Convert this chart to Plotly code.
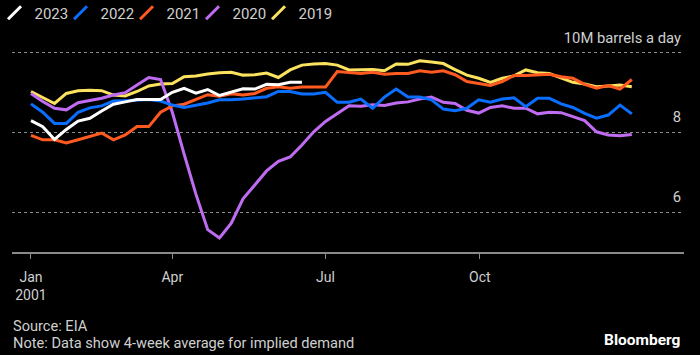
import plotly.graph_objects as go

weeks = list(range(52))

y2023 = [8.29, 8.14, 7.82, 8.07, 8.28, 8.35, 8.53, 8.70, 8.76, 8.82, 8.82, 8.82,
         9.00, 9.10, 8.98, 9.07, 8.92, 9.00, 9.09, 9.08, 9.20, 9.19, 9.25, 9.25]

y2022 = [8.71, 8.50, 8.22, 8.22, 8.50, 8.61, 8.66, 8.78, 8.79, 8.81, 8.82, 8.78,
         8.68, 8.62, 8.67, 8.73, 8.81, 8.81, 8.83, 8.86, 8.89, 9.02, 9.02, 8.96,
         8.96, 9.00, 8.75, 8.75, 8.83, 8.60, 8.88, 9.08, 8.88, 8.88, 8.81, 8.58,
         8.54, 8.60, 8.81, 8.75, 8.83, 8.86, 8.64, 8.85, 8.85, 8.71, 8.62, 8.47,
         8.35, 8.43, 8.68, 8.46]

y2021 = [7.92, 7.81, 7.81, 7.73, 7.81, 7.90, 7.98, 7.81, 7.93, 8.14, 8.14, 8.50,
         8.66, 8.70, 8.82, 8.94, 8.90, 8.96, 8.93, 8.97, 9.10, 9.14, 9.10, 9.13,
         9.13, 9.13, 9.52, 9.50, 9.47, 9.50, 9.45, 9.47, 9.47, 9.54, 9.50, 9.54,
         9.44, 9.27, 9.22, 9.17, 9.27, 9.42, 9.42, 9.43, 9.45, 9.39, 9.35, 9.20,
         9.10, 9.17, 9.08, 9.32]

y2020 = [8.97, 8.77, 8.60, 8.56, 8.74, 8.79, 8.85, 8.93, 8.99, 9.18, 9.37, 9.32,
         8.50, 7.45, 6.45, 5.56, 5.35, 5.72, 6.33, 6.68, 7.03, 7.27, 7.38, 7.68,
         8.01, 8.27, 8.46, 8.66, 8.65, 8.69, 8.67, 8.73, 8.76, 8.83, 8.88, 8.75,
         8.72, 8.55, 8.48, 8.62, 8.66, 8.60, 8.60, 8.46, 8.50, 8.49, 8.39, 8.29,
         8.01, 7.93, 7.91, 7.94]

y2019 = [9.02, 8.87, 8.72, 8.97, 9.04, 9.05, 9.04, 8.93, 8.91, 9.02, 9.16, 9.21,
         9.22, 9.39, 9.41, 9.46, 9.49, 9.50, 9.43, 9.44, 9.48, 9.37, 9.56, 9.68,
         9.71, 9.72, 9.68, 9.56, 9.56, 9.57, 9.54, 9.71, 9.70, 9.79, 9.76, 9.72,
         9.57, 9.43, 9.35, 9.25, 9.35, 9.41, 9.56, 9.49, 9.47, 9.35, 9.25, 9.21,
         9.14, 9.16, 9.18, 9.14]

series_names = ["2023", "2022", "2021", "2020", "2019"]
series_values = [y2023, y2022, y2021, y2020, y2019]
series_colors = ["#FFFFFF", "#0A6EFF", "#FF5A1F", "#BF6CF2", "#FBE35F"]

x_tickvals = [0, 12, 25, 38.1]
x_ticktext = ["Jan<br>2001", "Apr", "Jul", "Oct"]
y_tickvals = [6, 8, 10]
y_ticktext = ["6", "8", "10M barrels a day"]

FONT = "Roboto, 'Open Sans', sans-serif"
TXT = "#cfcfcf"

W, H = 700, 355
ML, MR, MT, MB = 12, 16, 28, 103
PW, PH = W - ML - MR, H - MT - MB


def px_x(fx):
    return (fx - ML) / PW


def px_y(fy):
    return (H - MB - fy) / PH


fig = go.Figure()

legend_ids = ["legend", "legend2", "legend3", "legend4", "legend5"]

for k, (name, col) in enumerate(zip(series_names, series_colors)):
    fig.add_trace(go.Scatter(
        x=[None], y=[None], mode="markers", name=name, legend=legend_ids[k],
        marker=dict(symbol="line-ne", size=13, color=col,
                    line=dict(color=col, width=3)),
        showlegend=True, hoverinfo="skip"))

for name, vals, col in reversed(list(zip(series_names, series_values, series_colors))):
    fig.add_trace(go.Scatter(
        x=weeks[:len(vals)], y=vals, mode="lines", name=name,
        line=dict(color=col, width=3), showlegend=False))

legend_layouts = {}
for k, lid in enumerate(legend_ids):
    legend_layouts[lid] = dict(
        orientation="h", xref="paper", yref="paper",
        x=px_x(-5.5 + 66 * k), y=px_y(13), xanchor="left", yanchor="middle",
        font=dict(size=15, color=TXT, family=FONT),
        bgcolor="rgba(0,0,0,0)", itemclick=False, itemdoubleclick=False)

fig.update_layout(
    width=W, height=H,
    paper_bgcolor="#000000", plot_bgcolor="#000000",
    margin=dict(l=ML, r=MR, t=MT, b=MB, autoexpand=False),
    font=dict(family=FONT, size=14, color=TXT),
    showlegend=True,
    xaxis=dict(range=[-1.61, 55.43], tickvals=x_tickvals, ticktext=x_ticktext,
               showgrid=False, zeroline=False, showline=True, linecolor="#8a8a8a",
               linewidth=2, ticks="outside", ticklen=5, tickcolor="#8a8a8a",
               tickwidth=1, tickfont=dict(size=14, color=TXT),
               ticklabelstandoff=6),
    yaxis=dict(range=[5.0, 10.61], tickvals=y_tickvals, ticktext=y_ticktext,
               side="right", ticklabelposition="inside", showgrid=True,
               gridcolor="#8a8a8a", griddash="dot", gridwidth=1, zeroline=False,
               showline=False, ticks="", tickfont=dict(size=14.8, color=TXT),
               ticklabelshift=-15),
    annotations=[
        dict(text="Source: EIA", xref="paper", yref="paper", x=px_x(11), y=px_y(326),
             xanchor="left", yanchor="middle", showarrow=False,
             font=dict(size=14.6, color=TXT, family=FONT)),
        dict(text="Note: Data show 4-week average for implied demand",
             xref="paper", yref="paper", x=px_x(11), y=px_y(343),
             xanchor="left", yanchor="middle", showarrow=False,
             font=dict(size=14.6, color=TXT, family=FONT)),
        dict(text="<b>Bloomberg</b>", xref="paper", yref="paper", x=px_x(682),
             y=px_y(340), xanchor="right", yanchor="middle", showarrow=False,
             font=dict(size=15.5, color="#ffffff", family=FONT)),
    ],
    **legend_layouts,
)

fig.write_html("out.html",
               config={"displayModeBar": False, "staticPlot": False},
               post_script="document.body.style.margin='0';"
                           "document.body.style.background='#000';")
